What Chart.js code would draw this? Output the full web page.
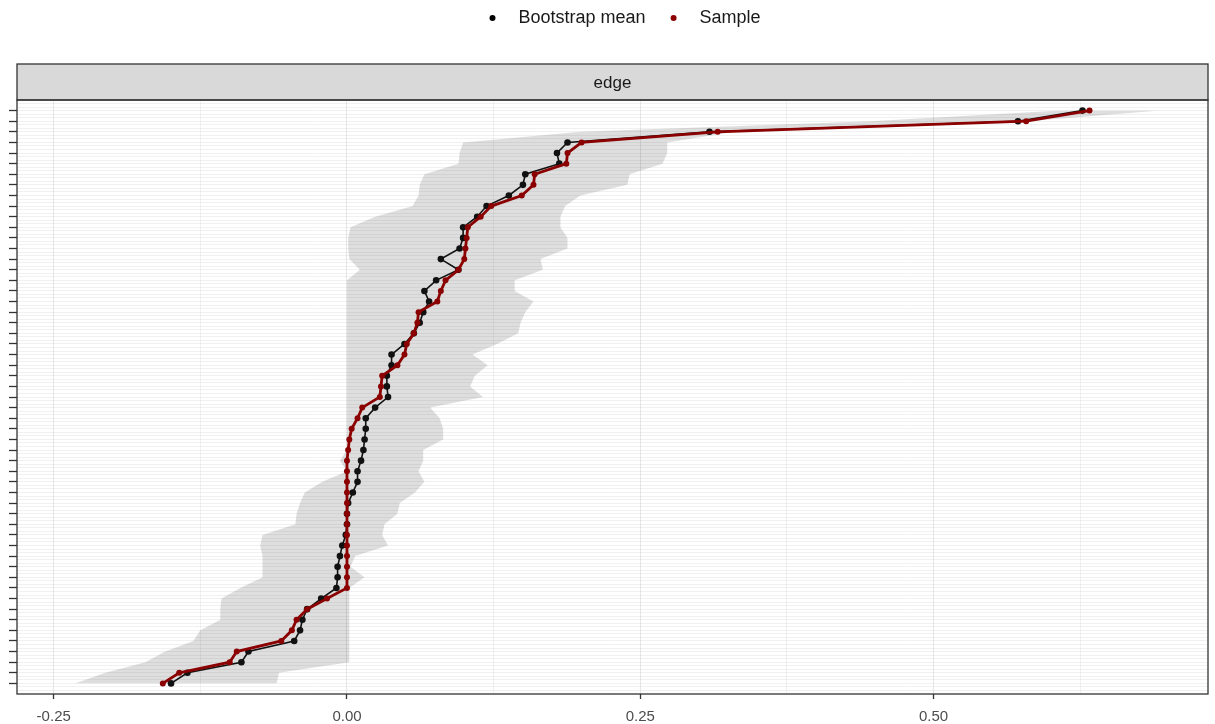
<!DOCTYPE html>
<html>
<head>
<meta charset="utf-8">
<title>edge</title>
<script src="https://cdn.jsdelivr.net/npm/chart.js@4.4.0/dist/chart.umd.min.js"></script>
<style>
  html, body { margin: 0; padding: 0; background: #fff; }
  #wrap { width: 1215px; height: 724px; }
</style>
</head>
<body>
<div id="wrap"><canvas id="edgeChart"></canvas></div>
<script>
// edges listed from the top of the plot (largest sample weight) to the bottom
const sampleVals = [
  0.633, 0.579, 0.316, 0.200, 0.188, 0.187, 0.160, 0.159, 0.149, 0.123,
  0.114, 0.103, 0.102, 0.101, 0.100, 0.095, 0.084, 0.080, 0.077, 0.061,
  0.060, 0.057, 0.051, 0.049, 0.043, 0.030, 0.029, 0.028, 0.013, 0.009,
  0.004, 0.002, 0.001, 0, 0, 0, 0, 0, 0, 0,
  0, 0, 0, 0, 0, 0, -0.017, -0.034, -0.043, -0.047,
  -0.056, -0.094, -0.100, -0.143, -0.157
];
const meanVals = [
  0.627, 0.572, 0.309, 0.188, 0.179, 0.181, 0.152, 0.150, 0.138, 0.119,
  0.111, 0.099, 0.099, 0.096, 0.080, 0.095, 0.076, 0.066, 0.070, 0.065,
  0.062, 0.057, 0.049, 0.038, 0.038, 0.034, 0.034, 0.035, 0.024, 0.016,
  0.016, 0.015, 0.014, 0.012, 0.009, 0.009, 0.005, 0.001, 0.000, 0.000,
  -0.001, -0.004, -0.006, -0.008, -0.008, -0.009, -0.022, -0.034, -0.038, -0.040,
  -0.045, -0.084, -0.090, -0.136, -0.150
];
const ciLower = [
  0.608, 0.446, 0.199, 0.099, 0.096, 0.095, 0.066, 0.062, 0.061, 0.056,
  0.024, 0.003, 0.001, 0.001, 0.002, 0.011, 0, 0, 0, 0,
  0, 0, 0, 0, 0, 0, 0, 0, 0, 0,
  0, 0, 0, -0.006, 0, -0.021, -0.036, -0.040, -0.043, -0.044,
  -0.072, -0.074, -0.072, -0.072, -0.072, -0.091, -0.107, -0.108, -0.108, -0.125,
  -0.131, -0.155, -0.172, -0.206, -0.232
];
const ciUpper = [
  0.693, 0.581, 0.330, 0.273, 0.273, 0.269, 0.241, 0.239, 0.199, 0.186,
  0.182, 0.182, 0.188, 0.188, 0.165, 0.167, 0.143, 0.143, 0.159, 0.152,
  0.148, 0.146, 0.128, 0.107, 0.120, 0.109, 0.105, 0.116, 0.071, 0.079,
  0.082, 0.082, 0.065, 0.065, 0.061, 0.066, 0.058, 0.045, 0.043, 0.032,
  0.030, 0.035, 0.007, 0.003, 0.015, 0.002, 0.002, 0.002, 0.002, 0.002,
  0.002, 0.002, 0.002, -0.058, -0.060
];
const xMajorTicks = [-0.25, 0, 0.25, 0.5];
const xGridVals = [-0.25, -0.125, 0, 0.125, 0.25, 0.375, 0.5, 0.625];
const legendNames = ['Bootstrap mean', 'Sample'];
const panelTitle = 'edge';

const nEdges = sampleVals.length;
const FONT = '"Liberation Sans", Arial, sans-serif';
const RED = '#8b0000';

// y = edge rank, 1 at the bottom, nEdges at the top
function toPoints(arr) {
  return arr.map((v, k) => ({ x: v, y: nEdges - k })).reverse();
}
function isMajorX(v) {
  return xMajorTicks.some(t => Math.abs(t - v) < 1e-9);
}
function isEdgeTick(v) {
  const r = Math.round(v);
  return Math.abs(v - r) < 1e-6 && r >= 1 && r <= nEdges;
}

// strip, panel border and legend, ggplot style
const decorations = {
  id: 'decorations',
  afterDraw(chart) {
    const { ctx, chartArea: a } = chart;
    const stripTop = 64;
    const cx = (a.left + a.right) / 2;
    ctx.save();
    ctx.fillStyle = '#d9d9d9';
    ctx.fillRect(a.left, stripTop, a.right - a.left, a.top - stripTop);
    ctx.strokeStyle = '#333';
    ctx.lineWidth = 1.3;
    ctx.strokeRect(a.left, stripTop, a.right - a.left, a.top - stripTop);
    ctx.strokeRect(a.left, a.top, a.right - a.left, a.bottom - a.top);

    ctx.fillStyle = '#1a1a1a';
    ctx.font = '17px ' + FONT;
    ctx.textAlign = 'center';
    ctx.textBaseline = 'middle';
    ctx.fillText(panelTitle, cx, (stripTop + a.top) / 2 + 1);

    // legend
    ctx.font = '18px ' + FONT;
    ctx.textAlign = 'left';
    const ly = 18;
    let lx = cx - 120;
    const cols = ['#000', RED];
    legendNames.forEach((name, i) => {
      ctx.fillStyle = cols[i];
      ctx.beginPath();
      ctx.arc(lx, ly, 3, 0, Math.PI * 2);
      ctx.fill();
      ctx.fillStyle = '#1a1a1a';
      ctx.fillText(name, lx + 26, ly);
      lx += 26 + ctx.measureText(name).width + 28;
    });
    ctx.restore();
  }
};

new Chart(document.getElementById('edgeChart'), {
  type: 'line',
  data: {
    datasets: [
      {
        label: 'Sample',
        data: toPoints(sampleVals),
        borderColor: RED,
        backgroundColor: RED,
        borderWidth: 2.8,
        pointRadius: 3,
        pointBorderWidth: 0,
        fill: false
      },
      {
        label: 'Bootstrap mean',
        data: toPoints(meanVals),
        borderColor: '#111',
        backgroundColor: '#111',
        borderWidth: 1.6,
        pointRadius: 3.3,
        pointBorderWidth: 0,
        fill: false
      },
      {
        label: 'CI upper',
        data: toPoints(ciUpper),
        borderColor: 'rgba(0,0,0,0)',
        borderWidth: 1,
        pointRadius: 0,
        backgroundColor: 'rgba(0,0,0,0.13)',
        fill: 3
      },
      {
        label: 'CI lower',
        data: toPoints(ciLower),
        borderColor: 'rgba(0,0,0,0)',
        borderWidth: 1,
        pointRadius: 0,
        fill: false
      }
    ]
  },
  options: {
    indexAxis: 'y',
    responsive: true,
    maintainAspectRatio: false,
    animation: false,
    layout: { padding: { left: 9, right: 7, top: 100, bottom: -11 } },
    plugins: {
      legend: { display: false },
      tooltip: { enabled: false }
    },
    scales: {
      x: {
        type: 'linear',
        min: -0.2813,
        max: 0.734,
        afterBuildTicks(axis) {
          axis.ticks = xGridVals.map(v => ({ value: v }));
        },
        ticks: {
          autoSkip: false,
          maxRotation: 0,
          padding: 9,
          color: '#4d4d4d',
          font: { size: 15, family: FONT },
          callback: v => (isMajorX(v) ? v.toFixed(2) : '')
        },
        grid: {
          color: c => (isMajorX(c.tick.value) ? 'rgba(0,0,0,0.09)' : 'rgba(0,0,0,0.05)'),
          lineWidth: 1,
          tickLength: 5,
          tickWidth: 1.3,
          tickColor: c => (isMajorX(c.tick.value) ? '#333' : 'rgba(0,0,0,0)')
        },
        border: { display: false }
      },
      y: {
        type: 'linear',
        min: 0,
        max: nEdges + 1,
        afterBuildTicks(axis) {
          const t = [];
          for (let i = 1; i < (nEdges + 1) * 3; i++) t.push({ value: i / 3 });
          axis.ticks = t;
        },
        ticks: { display: false },
        grid: {
          color: 'rgba(0,0,0,0.055)',
          lineWidth: 1,
          tickLength: 8,
          tickWidth: 1.3,
          tickColor: c => (isEdgeTick(c.tick.value) ? '#333' : 'rgba(0,0,0,0)')
        },
        border: { display: false }
      }
    }
  },
  plugins: [decorations]
});
</script>
</body>
</html>
